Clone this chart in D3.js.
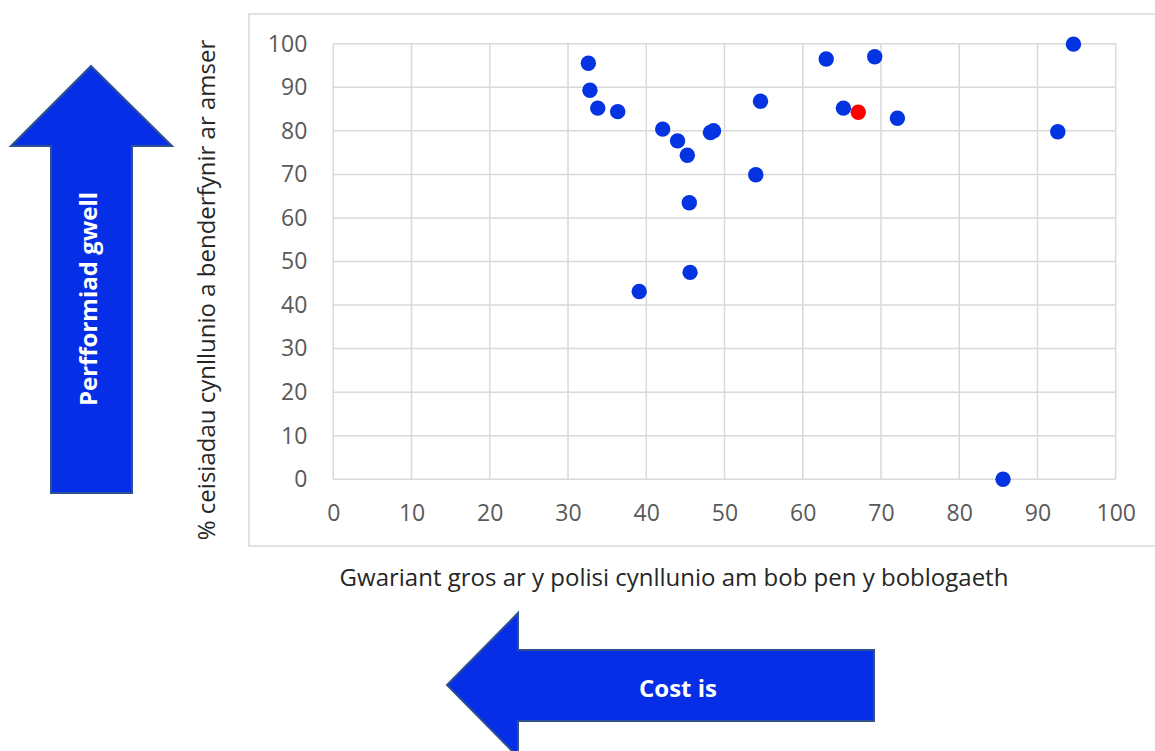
<!DOCTYPE html>
<html><head><meta charset="utf-8">
<script src="https://cdn.jsdelivr.net/npm/d3@7"></script>
<style>
html,body{margin:0;padding:0;background:#fff;}
svg{display:block;font-family:"Open Sans",sans-serif;}
</style></head>
<body>
<svg id="c" width="1155" height="751"></svg>
<script>
// Data
const spend = [32.6, 32.8, 33.8, 36.35, 42.1, 44.0, 45.25, 48.2, 48.6, 54.0, 54.6, 45.5, 45.6, 39.1, 63.0, 69.2, 65.2, 72.1, 94.6, 92.6, 85.6];
const onTime = [95.5, 89.3, 85.2, 84.4, 80.4, 77.7, 74.4, 79.6, 80.0, 69.9, 86.8, 63.5, 47.5, 43.1, 96.5, 97.0, 85.2, 82.9, 99.9, 79.8, 0];
const highlightSpend = [67.1];
const highlightOnTime = [84.25];
const xTicks = [0,10,20,30,40,50,60,70,80,90,100];
const yTicks = [0,10,20,30,40,50,60,70,80,90,100];
const xTitle = "Gwariant gros ar y polisi cynllunio am bob pen y boblogaeth";
const yTitle = "% ceisiadau cynllunio a benderfynir ar amser";
const upArrowLabel = "Perfformiad gwell";
const leftArrowLabel = "Cost is";

const svg = d3.select("#c");
const x = d3.scaleLinear().domain([0,100]).range([333.3,1115.7]);
const y = d3.scaleLinear().domain([0,100]).range([479.3,43.7]);

// chart frame
svg.append("rect").attr("x",249).attr("y",14).attr("width",920).attr("height",532)
  .attr("fill","#fff").attr("stroke","#d9d9d9").attr("stroke-width",1.5);

// grid
const g = svg.append("g");
g.selectAll(".vg").data(xTicks).join("line")
  .attr("x1",d=>x(d)).attr("x2",d=>x(d)).attr("y1",y(0)).attr("y2",y(100))
  .attr("stroke","#d9d9d9").attr("stroke-width",1.5);
g.selectAll(".hg").data(yTicks).join("line")
  .attr("x1",x(0)).attr("x2",x(100)).attr("y1",d=>y(d)).attr("y2",d=>y(d))
  .attr("stroke","#d9d9d9").attr("stroke-width",1.5);

// axes (labels only)
const xAxis = svg.append("g").attr("transform",`translate(0,${y(0)})`)
  .call(d3.axisBottom(x).tickValues(xTicks).tickSize(0).tickPadding(25));
const yAxis = svg.append("g").attr("transform",`translate(${x(0)},0)`)
  .call(d3.axisLeft(y).tickValues(yTicks).tickSize(0).tickPadding(26));
[xAxis,yAxis].forEach(a=>{
  a.select(".domain").remove();
  a.selectAll("text").attr("font-family","'Open Sans',sans-serif").attr("font-size",23).attr("fill","#595959");
});

// titles
svg.append("text").attr("x",674).attr("y",586).attr("text-anchor","middle")
  .attr("font-size",24).attr("fill","#262626").text(xTitle);
svg.append("text").attr("transform","translate(215,290) rotate(-90)").attr("text-anchor","middle")
  .attr("font-size",24).attr("fill","#262626").text(yTitle);

// points
svg.append("g").selectAll("circle").data(spend.map((s,i)=>[s,onTime[i]])).join("circle")
  .attr("cx",d=>x(d[0])).attr("cy",d=>y(d[1])).attr("r",7.7).attr("fill","#0433e2");
svg.append("g").selectAll("circle").data(highlightSpend.map((s,i)=>[s,highlightOnTime[i]])).join("circle")
  .attr("cx",d=>x(d[0])).attr("cy",d=>y(d[1])).attr("r",7.7).attr("fill","#ff0000");

// up arrow
const upPts = [[91,66],[172,146],[132,146],[132,493],[51,493],[51,146],[11,146]];
svg.append("polygon").attr("points",upPts.map(p=>p.join(",")).join(" "))
  .attr("fill","#062ee6").attr("stroke","#2f528f").attr("stroke-width",2);
svg.append("text").attr("transform","translate(97,299) rotate(-90)").attr("text-anchor","middle")
  .attr("font-size",24).attr("font-weight","bold").attr("fill","#fff").text(upArrowLabel);

// left arrow
const leftPts = [[447,685],[518,613],[518,650],[874,650],[874,721],[518,721],[518,757]];
svg.append("polygon").attr("points",leftPts.map(p=>p.join(",")).join(" "))
  .attr("fill","#062ee6").attr("stroke","#2f528f").attr("stroke-width",2);
svg.append("text").attr("x",678).attr("y",697).attr("text-anchor","middle")
  .attr("font-size",24).attr("font-weight","bold").attr("fill","#fff").text(leftArrowLabel);
</script>
</body></html>
